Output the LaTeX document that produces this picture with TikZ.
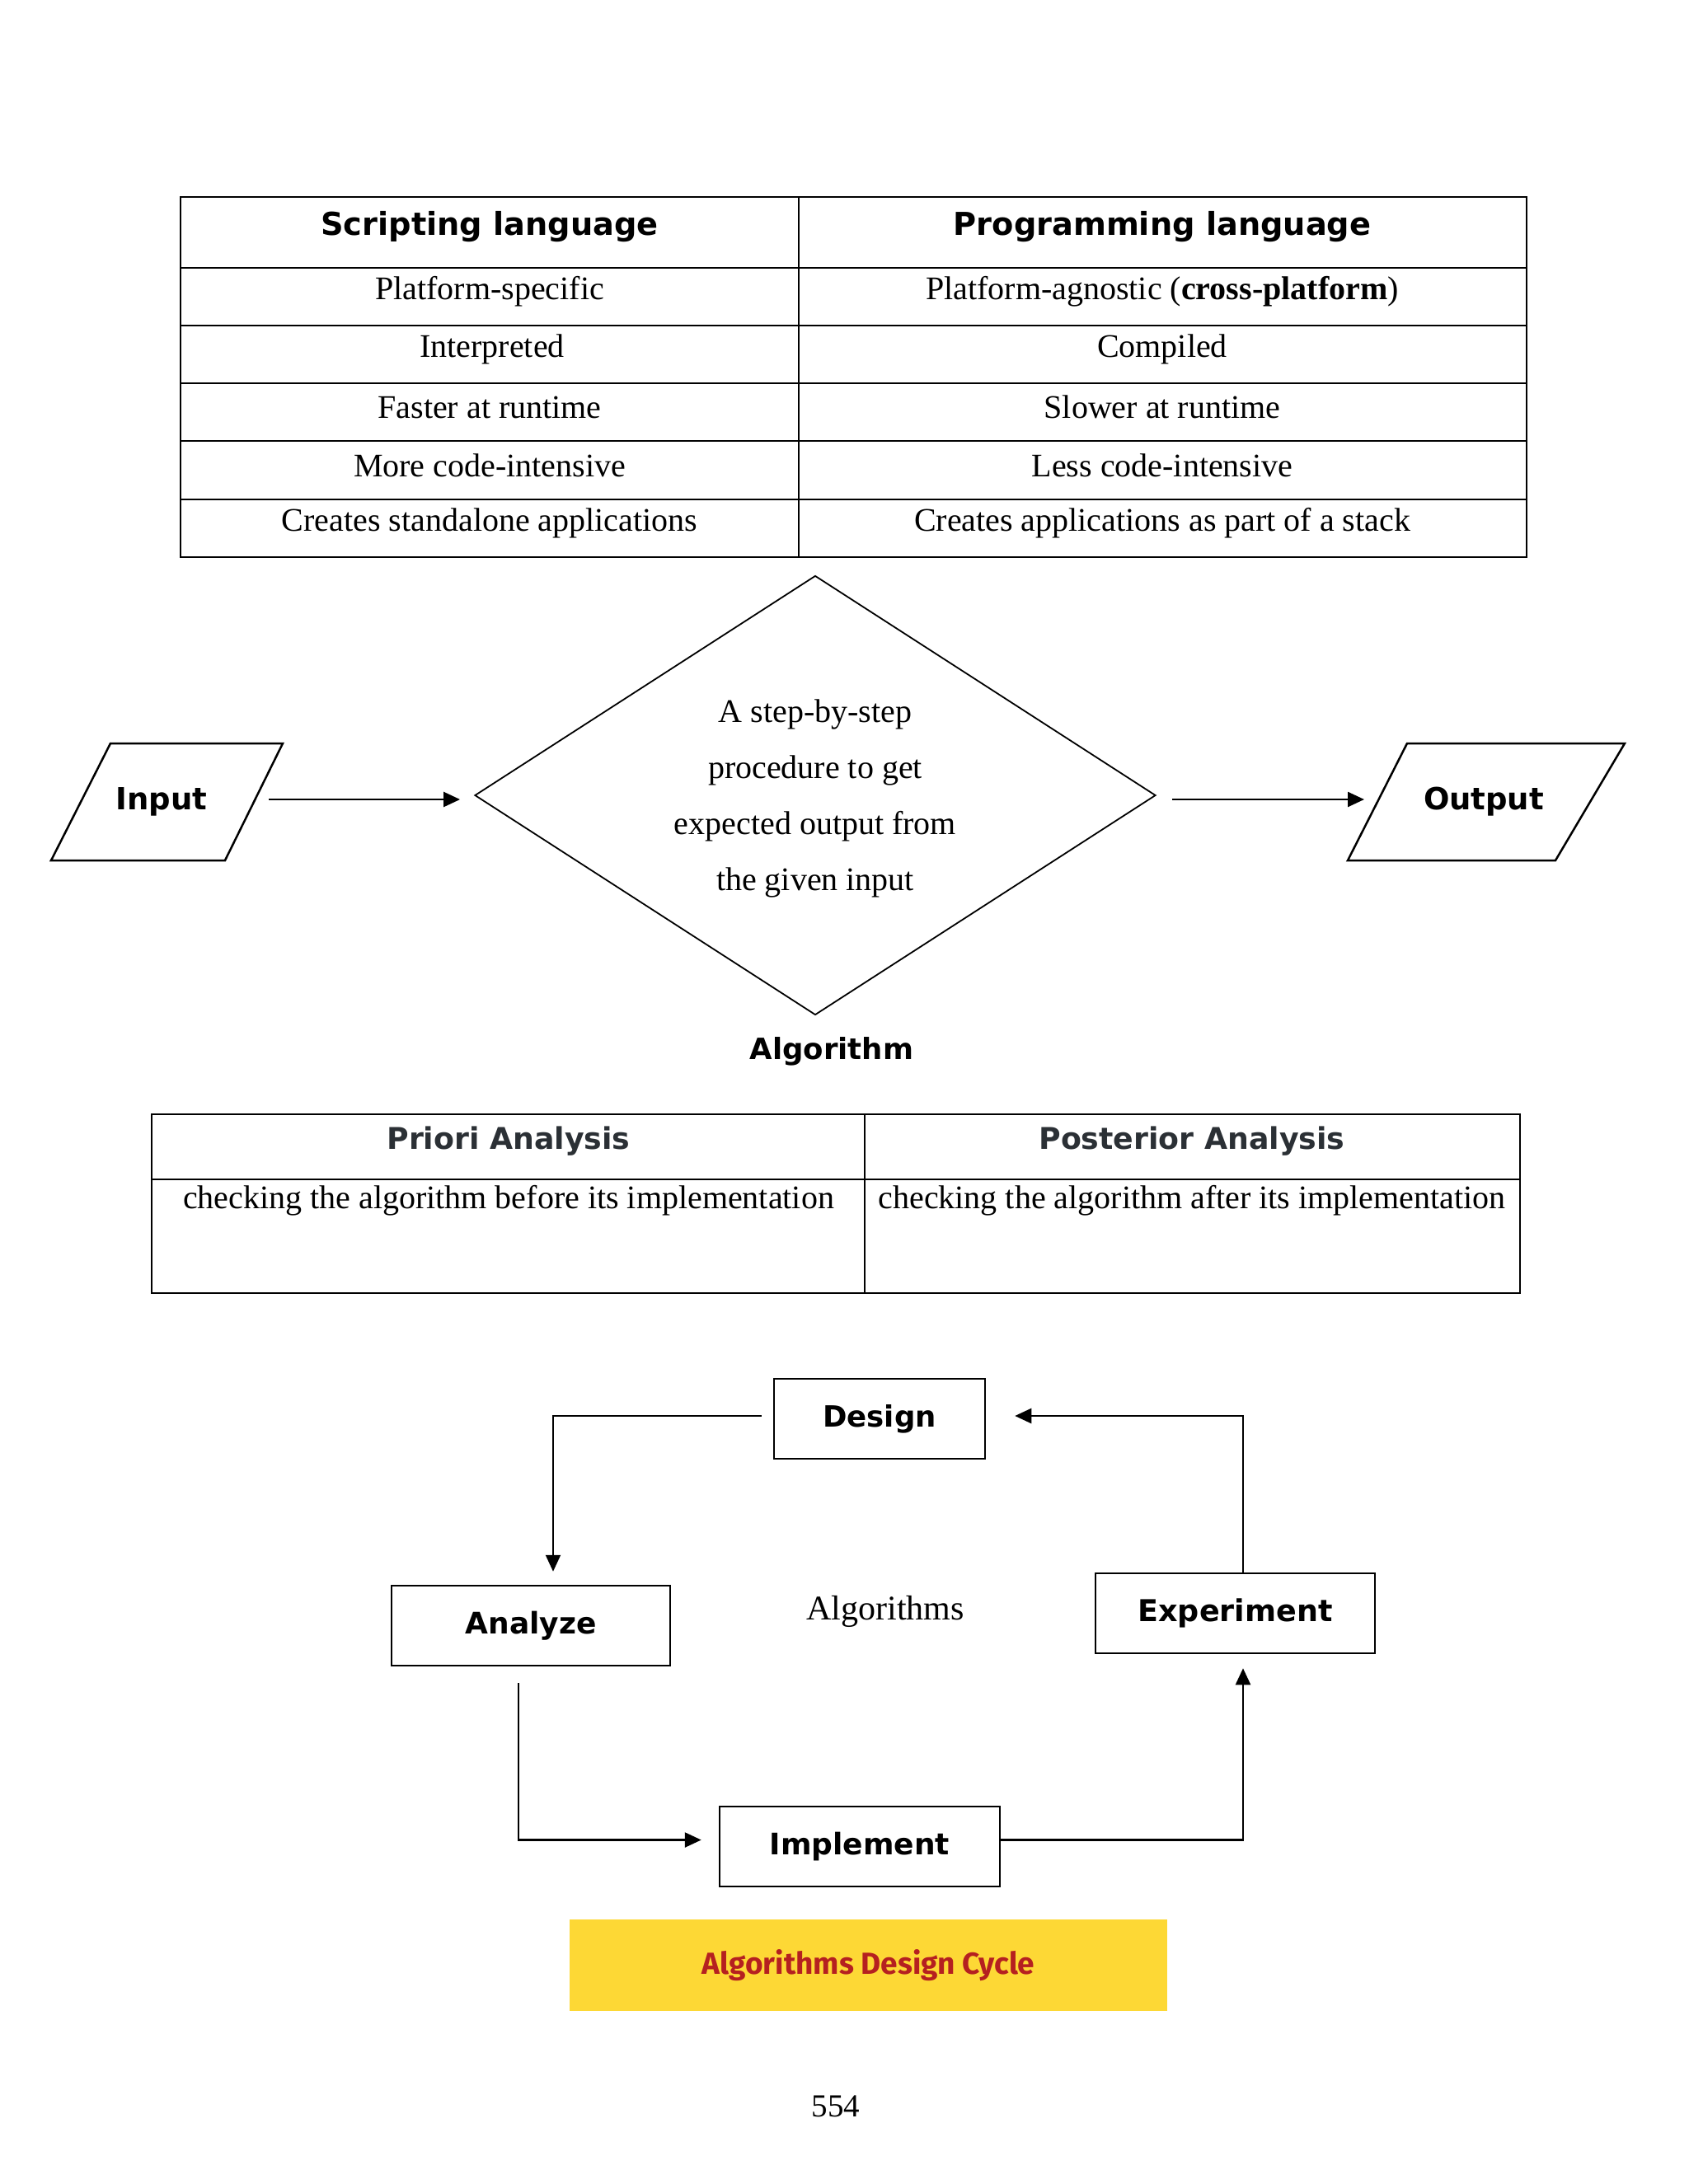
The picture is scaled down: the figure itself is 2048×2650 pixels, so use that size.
\documentclass[tikz,border=0pt]{standalone}
\usepackage{fontspec}
\setmainfont{Liberation Serif}
\newfontfamily\hdfont{DejaVu Sans}
\newfontfamily\capfont{Fira Sans}
\usetikzlibrary{arrows.meta,shapes.geometric}
\definecolor{hdgray}{HTML}{2B3035}
\definecolor{capyellow}{HTML}{FDD835}
\definecolor{capred}{HTML}{B52020}
\newcommand\bodyfs{\fontsize{40}{48}\selectfont}
\newcommand\hdfs{\hdfont\bfseries\fontsize{38.3}{46}\selectfont}
\newcommand\lblfs{\hdfont\bfseries\fontsize{35.5}{42}\selectfont}
\newcommand\iofs{\hdfont\bfseries\fontsize{37}{44}\selectfont}
\begin{document}
\begin{tikzpicture}[x=1pt,y=-1pt,
  body/.style={font=\bodyfs, inner sep=0pt, anchor=center},
  hd/.style={font=\hdfs, inner sep=0pt, anchor=center},
  lbl/.style={font=\lblfs, inner sep=0pt, anchor=center},
  tbl/.style={line width=2.2pt},
  cbox/.style={draw, line width=2.5pt, font=\lblfs, inner sep=0pt, minimum height=97pt},
  arr/.style={line width=2.5pt, -{Triangle[length=20pt,width=18pt]}}]
\useasboundingbox (0,0) rectangle (2048,2650);
\fill[white] (0,0) rectangle (2048,2650);

% ---------- Table 1 ----------
\draw[tbl] (219,239) rectangle (1852,676);
\foreach \yy in {325,395,465,535,606} \draw[tbl] (219,\yy) -- (1852,\yy);
\draw[line width=1.6pt] (969,239) -- (969,676);
\node[hd] (t1h1) at (594,275) {Scripting language};
\node[hd] (t1h2) at (1410,275) {Programming language};
\node[body] (t1a1) at (594,354) {Platform-specific};
\node[body] (t1b1) at (1410,354) {Platform-agnostic (\textbf{cross-platform})};
\node[body] (t1a2) at (597,424) {Interpreted};
\node[body] (t1b2) at (1410,424) {Compiled};
\node[body] (t1a3) at (594,494) {Faster at runtime};
\node[body] (t1b3) at (1410,494) {Slower at runtime};
\node[body] (t1a4) at (594,565) {More code-intensive};
\node[body] (t1b4) at (1410,565) {Less code-intensive};
\node[body] (t1a5) at (594,635) {Creates standalone applications};
\node[body] (t1b5) at (1410,635) {Creates applications as part of a stack};

% ---------- Flow ----------
\draw[line width=2.5pt] (134,902) -- (343,902) -- (273,1044) -- (62,1044) -- cycle;
\draw[line width=2.5pt] (1707,902) -- (1971,902) -- (1887,1044) -- (1635,1044) -- cycle;
\node[font=\iofs, inner sep=0pt] (inp) at (196,973) {Input};
\node[font=\iofs, inner sep=0pt] (outp) at (1800,973) {Output};
\node[draw, shape=diamond, line width=1.8pt, minimum width=826pt, minimum height=533pt, inner sep=0pt] (dia) at (989,965) {};
\node[font=\fontsize{40}{68}\selectfont, align=center, inner sep=0pt] (diatext) at (989,969)
  {A step-by-step\\procedure to get\\expected output from\\the given input};
\node[lbl] (algcap) at (1009,1276) {Algorithm};
\coordinate (inEnd) at (326,970);
\coordinate (outEnd) at (1655,970);
\draw[arr] (inEnd) -- ([xshift=-17pt, yshift=-5pt]dia.west);
\draw[arr] ([xshift=19pt, yshift=-5pt]dia.east) -- (outEnd);

% ---------- Table 2 ----------
\draw[line width=2pt] (184,1352) rectangle (1844,1569);
\draw[line width=2pt] (184,1431) -- (1844,1431);
\draw[line width=1.6pt] (1049,1352) -- (1049,1569);
\node[hd, text=hdgray, font=\hdfont\bfseries\fontsize{36.3}{44}\selectfont] (t2h1) at (617,1385) {Priori Analysis};
\node[hd, text=hdgray, font=\hdfont\bfseries\fontsize{36.3}{44}\selectfont] (t2h2) at (1446,1385) {Posterior Analysis};
\node[body] (t2a) at (617,1457) {checking the algorithm before its implementation};
\node[body] (t2b) at (1446,1457) {checking the algorithm after its implementation};

% ---------- Cycle ----------
\node[cbox, minimum width=256pt] (D) at (1067,1721.5) {\raisebox{3pt}{Design}};
\node[cbox, minimum width=338pt, font=\hdfont\bfseries\fontsize{36}{42}\selectfont] (A) at (644,1972.5) {Analyze};
\node[cbox, minimum width=339pt, font=\hdfont\bfseries\fontsize{36.5}{42}\selectfont] (E) at (1498.5,1957.5) {Experiment};
\node[cbox, minimum width=340pt, font=\hdfont\bfseries\fontsize{36}{42}\selectfont] (I) at (1043,2240.5) {Implement};
\node[font=\fontsize{42}{50}\selectfont, inner sep=0pt] (algs) at (1074,1955) {Algorithms};

\draw[arr, line width=2pt, shorten <=14pt, shorten >=16pt] ([yshift=3.5pt]D.west) -| ([xshift=27pt]A.north);
\draw[arr, shorten <=20pt, shorten >=21pt] ([xshift=-15pt]A.south) |- ([yshift=8pt]I.west);
\draw[arr, shorten >=17pt] ([yshift=8pt]I.east) -| ([xshift=9.5pt]E.south);
\draw[arr, shorten >=35pt] ([xshift=9.5pt]E.north) |- ([yshift=3.5pt]D.east);

% ---------- Caption ----------
\node[fill=capyellow, minimum width=725pt, minimum height=111pt, inner sep=0pt,
  font=\capfont\bfseries\fontsize{37}{44}\selectfont, text=capred] (cap) at (1053.5,2384.5) {Algorithms Design Cycle};

\node[font=\fontsize{39}{46}\selectfont, inner sep=0pt] (pg) at (1014,2556) {554};
\end{tikzpicture}
\end{document}
